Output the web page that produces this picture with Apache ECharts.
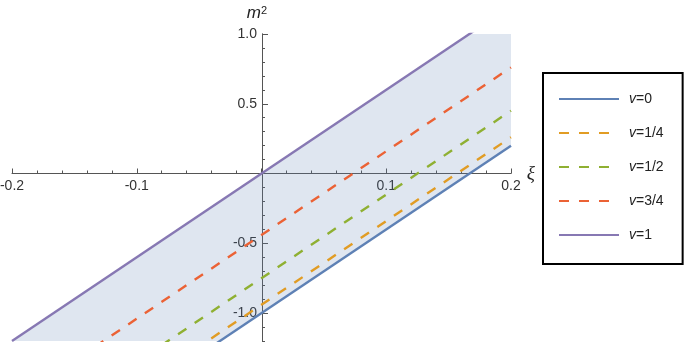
<!DOCTYPE html>
<html><head><meta charset="utf-8">
<script src="https://cdn.jsdelivr.net/npm/echarts@6/dist/echarts.min.js"></script>
<style>html,body{margin:0;padding:0;background:#fff}#c{width:685px;height:342px}</style>
</head><body><div id="c"></div>
<script>
// shared ξ endpoints
const xi = [-0.2, 0.2];
// m^2 values at the ξ endpoints
const v0  = [-2.2, 0.2];
const v14 = [-2.14, 0.26];
const v12 = [-1.95, 0.45];
const v34 = [-1.64, 0.76];
const v1  = [-1.2, 1.2];
const seriesNames = ['v=0', 'v=1/4', 'v=1/2', 'v=3/4', 'v=1'];
const seriesValues = [v0, v14, v12, v34, v1];
const xTickLabels = [-0.2, -0.1, 0.1, 0.2];
const yTickLabels = [-1.0, -0.5, 0.5, 1.0];

const colors = ['#5E81B5', '#E19C24', '#8FB032', '#EB6235', '#8778B3'];
const dashed = [false, true, true, true, false];
const FONT = "'Liberation Sans', Arial, sans-serif";
const AX = '#555';
const TXT = '#333';
const rect = {left: 12, top: 34, width: 499, height: 307};
// axis crossing positions (pixel offsets from the grid's left / bottom edges)
const yAxisOffset = -250;
const xAxisOffset = -167.5;

const chart = echarts.init(document.getElementById('c'), null, {renderer: 'canvas'});

const lineSeries = seriesNames.map((n, k) => ({
  name: n, type: 'line', xAxisIndex: 0, yAxisIndex: 0,
  data: xi.map((x, i) => [x, seriesValues[k][i]]),
  symbol: 'none', showSymbol: false, silent: true, clip: true, z: 3,
  lineStyle: {color: colors[k], width: 2.4, type: dashed[k] ? [10, 10] : 'solid'},
  itemStyle: {color: colors[k]}
}));

const band = {
  type: 'custom', xAxisIndex: 0, yAxisIndex: 0, clip: true, silent: true, z: 1,
  data: [[xi[0], v0[0], v1[0]]],
  renderItem: (params, api) => {
    const upper = xi.map((x, i) => api.coord([x, v1[i]]));
    const lower = xi.map((x, i) => api.coord([x, v0[i]])).reverse();
    return {type: 'polygon', shape: {points: upper.concat(lower)},
            style: {fill: 'rgba(94,129,181,0.2)', stroke: null}};
  }
};

chart.setOption({
  animation: false,
  backgroundColor: '#fff',
  grid: Object.assign({containLabel: false, outerBoundsMode: 'none'}, rect),
  xAxis: {
    type: 'value', min: -0.2, max: 0.2, interval: 0.1,
    position: 'bottom', offset: xAxisOffset,
    axisLine: {onZero: false, lineStyle: {color: AX, width: 1}},
    axisTick: {inside: true, length: 5, lineStyle: {color: AX}},
    minorTick: {show: true, splitNumber: 5, length: 3, lineStyle: {color: AX}},
    splitLine: {show: false}, minorSplitLine: {show: false},
    axisLabel: {customValues: xTickLabels, formatter: v => v.toFixed(1),
                margin: 6, color: TXT, fontSize: 14, fontFamily: FONT},
    name: 'ξ', nameLocation: 'end', nameGap: 13,
    nameTextStyle: {fontStyle: 'italic', fontSize: 19, fontFamily: "'Liberation Serif', serif", color: '#222'}
  },
  yAxis: [{
    type: 'value', min: -1.2, max: 1, interval: 0.1,
    position: 'left', offset: yAxisOffset,
    axisLine: {onZero: false, lineStyle: {color: AX, width: 1}},
    axisTick: {inside: true, length: 3, lineStyle: {color: AX}},
    splitLine: {show: false},
    axisLabel: {customValues: yTickLabels, formatter: v => v.toFixed(1),
                margin: 5, color: TXT, fontSize: 14, fontFamily: FONT},
    name: '{m|m}{s|2}', nameLocation: 'end', nameGap: 12,
    nameTextStyle: {
      padding: [0, 10, 0, 0],
      rich: {
        m: {fontStyle: 'italic', fontSize: 17, fontFamily: FONT, color: '#222'},
        s: {fontSize: 11, verticalAlign: 'top', fontFamily: FONT, color: '#222'}
      }
    }
  }, {
    type: 'value', min: -1.2, max: 1,
    position: 'left', offset: yAxisOffset,
    axisLine: {show: true, onZero: false, lineStyle: {color: AX, width: 1}},
    axisTick: {show: true, inside: true, length: 6, customValues: yTickLabels, lineStyle: {color: AX}},
    axisLabel: {show: false}, splitLine: {show: false}
  }],
  legend: {
    data: seriesNames, orient: 'vertical', left: 543, top: 73,
    padding: [19, 19, 22, 15], itemWidth: 60, itemHeight: 14, itemGap: 20,
    borderColor: '#000', borderWidth: 2, backgroundColor: '#fff',
    selectedMode: false,
    itemStyle: {opacity: 0},
    lineStyle: {opacity: 1},
    formatter: n => '{i|v}{t|' + n.slice(1) + '}',
    textStyle: {
      padding: [0, 0, 0, 5],
      rich: {
        i: {fontStyle: 'italic', fontSize: 14, fontFamily: FONT, color: '#222'},
        t: {fontSize: 14, fontFamily: FONT, color: '#222'}
      }
    }
  },
  series: [band].concat(lineSeries)
});
</script>
</body></html>
